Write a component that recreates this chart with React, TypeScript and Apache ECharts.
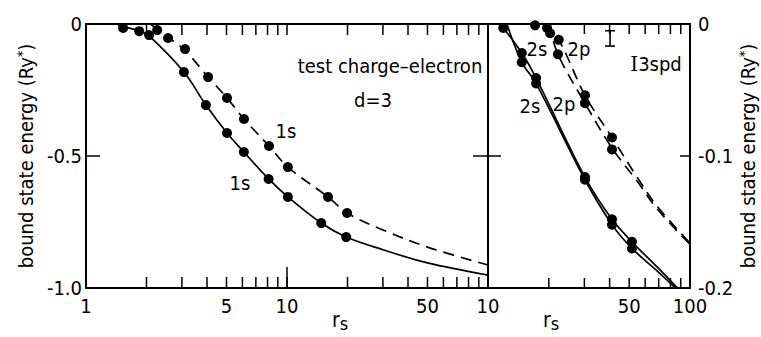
import React, { useEffect, useRef } from "react";
import * as echarts from "echarts";

// ---------- data ----------
// left panel: test charge–electron, d=3, 1s states
const leftSolidPts: [number, number][] = [
  [1.53, -0.015], [1.84, -0.027], [2.06, -0.042], [3.07, -0.182], [3.95, -0.307],
  [5.03, -0.413], [6.1, -0.485], [8.1, -0.587], [10.1, -0.655], [14.8, -0.754], [19.7, -0.807],
];
const leftDashedPts: [number, number][] = [
  [2.26, -0.023], [2.56, -0.053], [3.11, -0.095], [4.05, -0.201], [5.03, -0.28],
  [6.11, -0.36], [8.14, -0.462], [10.1, -0.542], [16.0, -0.655], [19.9, -0.716],
];
const leftSolidCurve: [number, number][] = [
  [1.42, 0], [1.53, -0.01], [1.84, -0.026], [2.06, -0.045], [3.07, -0.182], [3.95, -0.307],
  [5.03, -0.413], [6.1, -0.485], [8.1, -0.587], [10.1, -0.655], [14.8, -0.754], [19.7, -0.807],
  [30, -0.855], [50, -0.905], [100, -0.951],
];
const leftDashedCurve: [number, number][] = [
  [2.1, 0], [2.26, -0.02], [2.56, -0.05], [3.11, -0.1], [4.05, -0.201], [5.03, -0.28],
  [6.11, -0.36], [8.14, -0.462], [10.1, -0.542], [16.0, -0.655], [19.9, -0.716],
  [30, -0.78], [50, -0.845], [100, -0.913],
];

// right panel: 2s / 2p states
const right2sSolidPts: [number, number][] = [
  [11.9, -0.003], [14.7, -0.022], [17.3, -0.041], [30.2, -0.116], [41.1, -0.148], [51.6, -0.165],
];
const right2pSolidPts: [number, number][] = [
  [14.7, -0.029], [17.3, -0.045], [30.2, -0.118], [41.1, -0.152], [51.6, -0.17],
];
const right2sSolidCurve: [number, number][] = [
  [11.5, 0], [14.7, -0.022], [17.3, -0.041], [30.2, -0.116], [41.1, -0.148], [51.6, -0.165],
  [68.7, -0.184], [88, -0.201],
];
const right2pSolidCurve: [number, number][] = [
  [12.4, 0], [14.7, -0.029], [17.3, -0.045], [30.2, -0.118], [41.1, -0.152], [51.6, -0.17],
  [68.7, -0.187], [86, -0.201],
];
const right2sDashedPts: [number, number][] = [
  [17.1, -0.001], [20.3, -0.007], [22.4, -0.012], [30.2, -0.054], [41.1, -0.086],
];
const right2pDashedPts: [number, number][] = [
  [19.6, -0.003], [22.2, -0.023], [30.2, -0.06], [41.1, -0.095],
];
const right2sDashedCurve: [number, number][] = [
  [19.0, 0], [22.4, -0.012], [30.2, -0.054], [41.1, -0.086], [54.7, -0.116], [68.7, -0.138], [100, -0.166],
];
const right2pDashedCurve: [number, number][] = [
  [20.0, 0], [22.2, -0.023], [30.2, -0.06], [41.1, -0.094], [54.7, -0.119], [68.7, -0.14], [100, -0.167],
];
// error bar (3spd): x, upper, lower
const errorBar: [number, number, number][] = [[40.2, -0.0051, -0.0167]];

// ticks & labels
const leftTicks = [2, 3, 4, 5, 6, 7, 8, 9, 10, 20, 30, 40, 50, 60, 70, 80, 90];
const leftMajorTicks = [10];
const leftLabels = [1, 5, 10, 50];
const rightTicks = [20, 30, 40, 50, 60, 70, 80, 90];
const rightLabels = [10, 50, 100];

const F = "'DejaVu Sans Condensed', 'Liberation Sans Narrow', 'DejaVu Sans', sans-serif";
const BLACK = "#000";

export default function App() {
  const ref = useRef<HTMLDivElement>(null);
  useEffect(() => {
    if (!ref.current) return;
    const chart = echarts.init(ref.current, undefined, { renderer: "svg" });

    const xAxisDef = (gridIndex: number, min: number, max: number, labels: number[]) => ({
      type: "log",
      logBase: 10,
      gridIndex,
      min,
      max,
      axisLine: { show: true, onZero: false, lineStyle: { color: BLACK, width: 2 } },
      axisTick: { show: false },
      axisLabel: { show: true, customValues: labels, color: BLACK, fontSize: 20, fontFamily: F, margin: 8 },
      splitLine: { show: false },
    });

    const yFmt = (v: number) => (v === 0 ? "0" : v.toFixed(1));
    const yName = {
      name: "bound state energy (Ry{sup|*})",
      nameLocation: "middle",
      nameRotate: 90,
      nameTextStyle: {
        color: BLACK, fontSize: 20, fontFamily: F,
        rich: { sup: { fontSize: 14, fontFamily: F, color: BLACK, verticalAlign: "top", padding: [0, 0, 8, 0] } },
      },
    };
    const yAxisDef = (gridIndex: number, position: string, min: number, interval: number, len: number, labels: boolean, nameGap?: number) => ({
      type: "value",
      gridIndex,
      position,
      min,
      max: 0,
      interval,
      axisLine: { show: true, lineStyle: { color: BLACK, width: 2 } },
      axisTick: { show: true, inside: true, length: len, lineStyle: { color: BLACK, width: 1.5 } },
      axisLabel: labels
        ? { show: true, color: BLACK, fontSize: 20, fontFamily: F, margin: position === "left" ? 4 : 8, formatter: yFmt }
        : { show: false },
      splitLine: { show: false },
      ...(nameGap != null ? { ...yName, nameGap } : {}),
    });

    const lineSeries = (data: [number, number][], xi: number, yi: number, dashed: boolean) => ({
      type: "line",
      xAxisIndex: xi,
      yAxisIndex: yi,
      data,
      smooth: 0.35,
      showSymbol: false,
      symbol: "none",
      lineStyle: { color: BLACK, width: 1.7, type: dashed ? [11, 7] : "solid" },
      z: 3,
    });
    const scatterSeries = (data: [number, number][], xi: number, yi: number) => ({
      type: "scatter",
      xAxisIndex: xi,
      yAxisIndex: yi,
      data,
      symbol: "circle",
      symbolSize: 10,
      itemStyle: { color: BLACK, opacity: 1 },
      z: 4,
    });

    const txt = (text: string, x: number, y: number) => ({
      type: "text",
      x,
      y,
      style: { text, fill: BLACK, fontSize: 20, fontFamily: F, align: "center", verticalAlign: "middle" },
      z: 10,
    });
    const rsLabel = (x: number, y: number) => ({
      type: "text",
      x,
      y,
      style: {
        text: "r{s|s}",
        fill: BLACK,
        fontSize: 21,
        fontFamily: F,
        align: "center",
        verticalAlign: "middle",
        rich: { s: { fontSize: 18, fontFamily: F, fill: BLACK, padding: [7, 0, 0, 0] } },
      },
      z: 10,
    });

    chart.setOption({
      animation: false,
      grid: [
        { left: 86, top: 24, width: 402, height: 264 },
        { left: 488, top: 24, width: 202, height: 264 },
      ],
      xAxis: [xAxisDef(0, 1, 100, leftLabels), xAxisDef(1, 10, 100, rightLabels)],
      yAxis: [
        yAxisDef(0, "left", -1, 0.5, 14, true, 44),
        yAxisDef(0, "right", -1, 0.5, 15, false),
        yAxisDef(1, "left", -0.2, 0.1, 13, false),
        yAxisDef(1, "right", -0.2, 0.1, 10, true, 46),
      ],
      series: [
        lineSeries(leftSolidCurve, 0, 0, false),
        lineSeries(leftDashedCurve, 0, 0, true),
        scatterSeries(leftSolidPts, 0, 0),
        scatterSeries(leftDashedPts, 0, 0),
        lineSeries(right2sSolidCurve, 1, 2, false),
        lineSeries(right2pSolidCurve, 1, 2, false),
        lineSeries(right2sDashedCurve, 1, 2, true),
        lineSeries(right2pDashedCurve, 1, 2, true),
        scatterSeries(right2sSolidPts, 1, 2),
        scatterSeries(right2pSolidPts, 1, 2),
        scatterSeries(right2sDashedPts, 1, 2),
        scatterSeries(right2pDashedPts, 1, 2),
        {
          type: "custom",
          xAxisIndex: 1,
          yAxisIndex: 2,
          data: errorBar,
          encode: { x: 0, y: [1, 2] },
          renderItem: (_p: any, api: any) => {
            const a = api.coord([api.value(0), api.value(1)]);
            const b = api.coord([api.value(0), api.value(2)]);
            const w = 5;
            const st = { stroke: BLACK, lineWidth: 1.6 };
            return {
              type: "group",
              children: [
                { type: "line", shape: { x1: a[0], y1: a[1], x2: b[0], y2: b[1] }, style: st },
                { type: "line", shape: { x1: a[0] - w, y1: a[1], x2: a[0] + w, y2: a[1] }, style: st },
                { type: "line", shape: { x1: b[0] - w, y1: b[1], x2: b[0] + w, y2: b[1] }, style: st },
              ],
            };
          },
          z: 5,
        },
      ],
    });

    // frame top edge and x-axis tick marks, placed through the axes' own scales
    const st = { stroke: BLACK, lineWidth: 1.5 };
    const px = (xi: number, yi: number, v: number, y: number) =>
      chart.convertToPixel({ xAxisIndex: xi, yAxisIndex: yi } as any, [v, y]) as number[];
    const tickLines: any[] = [];
    const addTicks = (ticks: number[], xi: number, yi: number, yMin: number, len: number, top: boolean) => {
      ticks.forEach((v) => {
        const b = px(xi, yi, v, yMin);
        if (b) tickLines.push({ type: "line", z: 6, shape: { x1: b[0], y1: b[1], x2: b[0], y2: b[1] - len }, style: st });
        if (top) {
          const t = px(xi, yi, v, 0);
          if (t) tickLines.push({ type: "line", z: 6, shape: { x1: t[0], y1: t[1], x2: t[0], y2: t[1] + len }, style: st });
        }
      });
    };
    addTicks(leftTicks, 0, 0, -1, 11, true);
    addTicks(leftMajorTicks, 0, 0, -1, 21, false);
    addTicks(rightTicks, 1, 2, -0.2, 10, true);
    const tl = px(0, 0, 1, 0);
    const tr = px(1, 2, 100, 0);
    if (tl && tr) tickLines.push({ type: "line", z: 6, shape: { x1: tl[0] - 1, y1: tl[1], x2: tr[0] + 1, y2: tr[1] }, style: { stroke: BLACK, lineWidth: 2 } });

    chart.setOption({
      graphic: [
        txt("test charge\u2013electron", 390, 66),
        txt("d=3", 373, 100),
        txt("1s", 286, 131),
        txt("1s", 240, 183),
        txt("2s", 537, 49),
        txt("2p", 579, 49),
        txt("2s", 530, 106),
        txt("2p", 564, 104),
        {
          type: "text",
          x: 656,
          y: 64,
          style: {
            text: "{i|I}3spd",
            fill: BLACK,
            fontSize: 20,
            fontFamily: F,
            align: "center",
            verticalAlign: "middle",
            rich: { i: { fontSize: 20, fontFamily: "'DejaVu Serif', serif", fill: BLACK } },
          },
          z: 10,
        },
        rsLabel(340, 320),
        rsLabel(551, 320),
        ...tickLines,
      ],
    });
    return () => chart.dispose();
  }, []);
  return (
    <div
      ref={ref}
      style={{ position: "fixed", left: 0, top: 0, width: 761, height: 337, background: "#fff" }}
    />
  );
}
